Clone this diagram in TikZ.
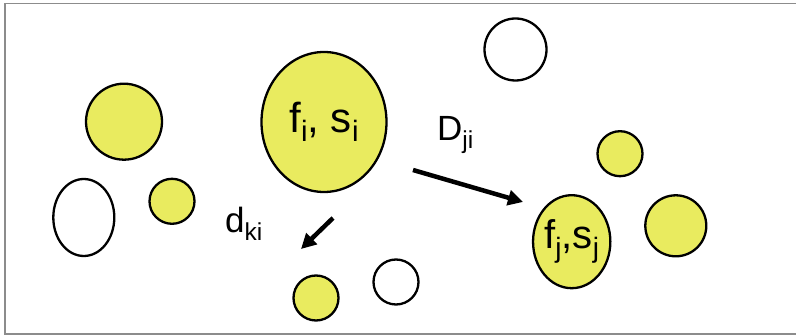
\documentclass[tikz,border=0pt]{standalone}
\usepackage{fontspec}
\setmainfont{Liberation Sans}
\usepackage{graphicx}
\usetikzlibrary{arrows.meta,shapes.geometric}
\definecolor{frame}{HTML}{8C8C8C}
\definecolor{lemon}{HTML}{E9EB5F}
\newcommand\lowidx[1]{\raisebox{-0.22em}{\scalebox{0.7}{#1}}}

\begin{document}
\begin{tikzpicture}[x=1pt,y=-1pt,
    blob/.style={ellipse,draw=black,line width=2.3pt,inner sep=0pt},
    agent/.style={blob,fill=lemon},
    idle/.style={blob,fill=white},
    push/.style={line width=4.5pt,-{Triangle[length=15pt,width=15pt]}},
    tag/.style={font=\fontsize{35}{42}\selectfont,inner sep=0pt,anchor=base west}]
  \useasboundingbox (0,0) rectangle (796,336);
  % frame, open on the right
  \draw[frame,line width=1.5pt] (796,3.5) -- (5,3.5) -- (5,334) -- (796,334);
  % the two agents
  \node[agent,minimum width=125,minimum height=140,font=\fontsize{42}{50}\selectfont] (fi) at (324,122) {f\lowidx{i}, s\lowidx{i}};
  \node[agent,minimum width=77,minimum height=93,font=\fontsize{40}{48}\selectfont] (fj) at (571.7,241.7) {f\lowidx{j},s\lowidx{j}};
  % other bodies
  \node[idle,minimum width=62,minimum height=62] (topfree) at (515.5,49.5) {};
  \node[agent,minimum width=45,minimum height=45] (lowagent) at (316,298) {};
  \node[idle,minimum width=45,minimum height=45] (lowfree) at (396,282) {};
  \node[agent,minimum width=45,minimum height=45] (eastsmall) at (620,153.7) {};
  \node[agent,minimum width=61,minimum height=61] (eastbig) at (675.8,225.8) {};
  \node[agent,minimum width=76,minimum height=76] (westbig) at (124,121.7) {};
  \node[idle,minimum width=61,minimum height=77] (westfree) at (83.8,217.5) {};
  \node[agent,minimum width=45,minimum height=45] (westsmall) at (172,201.3) {};
  % forces
  \coordinate (Dtail) at (413,170);
  \coordinate (Dhead) at (523,202);
  \coordinate (dtail) at (333,218);
  \coordinate (dhead) at (301,249);
  \draw[push] (Dtail) -- (Dhead);
  \draw[push] (dtail) -- (dhead);
  \node[tag] (Dji) at (437,141) {D\lowidx{ji}};
  \node[tag] (dki) at (225,233) {d\lowidx{ki}};
\end{tikzpicture}
\end{document}
